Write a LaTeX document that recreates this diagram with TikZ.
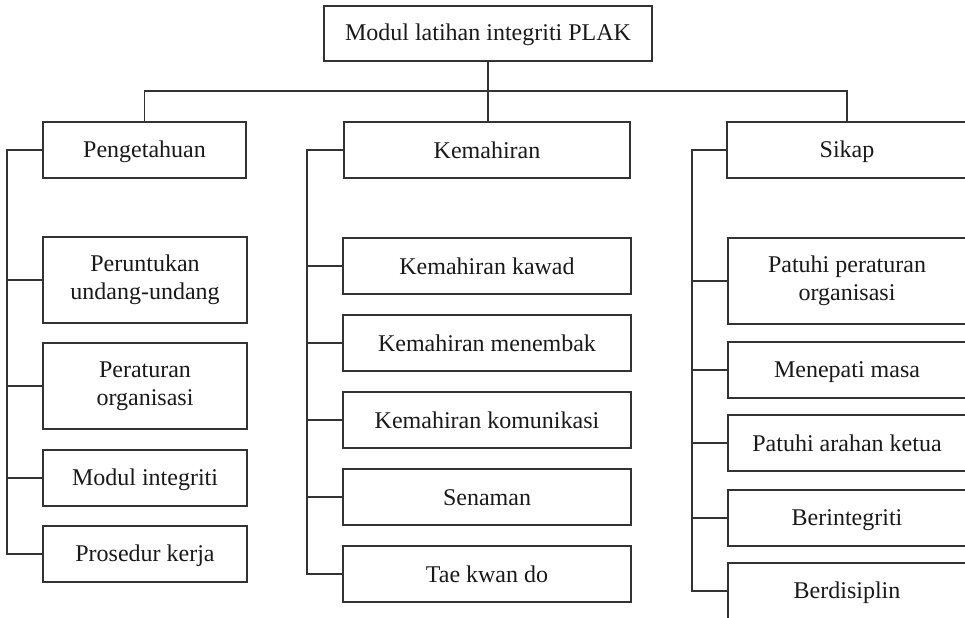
\documentclass[tikz,border=0pt]{standalone}
\usepackage{fontspec}
\setmainfont{Liberation Serif}
\usepackage{tikz}
\usetikzlibrary{positioning,calc}

\newcommand{\boxstrut}{\rule[-2pt]{0pt}{12pt}}

\tikzset{
    box/.style={draw=black!80, line width=0.7pt, rectangle, inner sep=0pt, align=center,
        font=\fontsize{12}{14}\selectfont, text=black!90,
        execute at begin node=\boxstrut, execute at end node=\boxstrut},
    link/.style={draw=black!80, line width=0.7pt}
}

\begin{document}
\begin{tikzpicture}[x=0.5pt, y=-0.5pt]
    \useasboundingbox (0,0) rectangle (965,617);
    \clip (0,0) rectangle (965,617);

    % root
    \node[box, minimum width=164pt, minimum height=27.5pt] (root) at (488,33.5) {Modul latihan integriti PLAK};
    \coordinate (bar) at (0,91);

    % level 1
    \node[box, minimum width=101.5pt, minimum height=28pt] (peng) at (144.5,150) {Pengetahuan};
    \node[box, minimum width=143pt, minimum height=28pt] (kem) at (487,150) {Kemahiran};
    \node[box, minimum width=120pt, minimum height=28pt] (sikap) at (847,150) {Sikap};

    % Pengetahuan
    \node[box, minimum width=102pt, minimum height=43pt] (pu) at (145,280) {Peruntukan\\undang-undang};
    \node[box, minimum width=102pt, minimum height=43pt] (po) at (145,386) {Peraturan\\organisasi};
    \node[box, minimum width=102pt, minimum height=28pt] (mi) at (145,478) {Modul integriti};
    \node[box, minimum width=102pt, minimum height=28pt] (pk) at (145,554) {Prosedur kerja};

    % Kemahiran
    \node[box, minimum width=144pt, minimum height=28pt] (kk) at (487,266) {Kemahiran kawad};
    \node[box, minimum width=144pt, minimum height=28pt] (km) at (487,343) {Kemahiran menembak};
    \node[box, minimum width=144pt, minimum height=28pt] (kko) at (487,420) {Kemahiran komunikasi};
    \node[box, minimum width=144pt, minimum height=28pt] (sen) at (487,497) {Senaman};
    \node[box, minimum width=144pt, minimum height=28pt] (tkd) at (487,574) {Tae kwan do};

    % Sikap
    \node[box, minimum width=119pt, minimum height=43pt] (pp) at (847,281) {Patuhi peraturan\\organisasi};
    \node[box, minimum width=119pt, minimum height=28pt] (mm) at (847,370) {Menepati masa};
    \node[box, minimum width=119pt, minimum height=28pt] (pa) at (847,443) {Patuhi arahan ketua};
    \node[box, minimum width=119pt, minimum height=28pt] (bi) at (847,518) {Berintegriti};
    \node[box, minimum width=119pt, minimum height=28pt] (bd) at (847,591) {Berdisiplin};

    % root to level 1
    \draw[link] (root.south) -- (root.south |- kem.north);
    \draw[link] (peng.north) -- (peng.north |- bar) -| (sikap.north);

    % left column
    \coordinate (lbus) at (7,0);
    \draw[link] (peng.west) -| (lbus |- pk.west) -- (pk.west);
    \foreach \n in {pu,po,mi}
        \draw[link] (lbus |- \n.west) -- (\n.west);

    % middle column
    \coordinate (mbus) at (307,0);
    \draw[link] (kem.west) -| (mbus |- tkd.west) -- (tkd.west);
    \foreach \n in {kk,km,kko,sen}
        \draw[link] (mbus |- \n.west) -- (\n.west);

    % right column
    \coordinate (rbus) at (692,0);
    \draw[link] (sikap.west) -| (rbus |- bd.west) -- (bd.west);
    \foreach \n in {pp,mm,pa,bi}
        \draw[link] (rbus |- \n.west) -- (\n.west);
\end{tikzpicture}
\end{document}
